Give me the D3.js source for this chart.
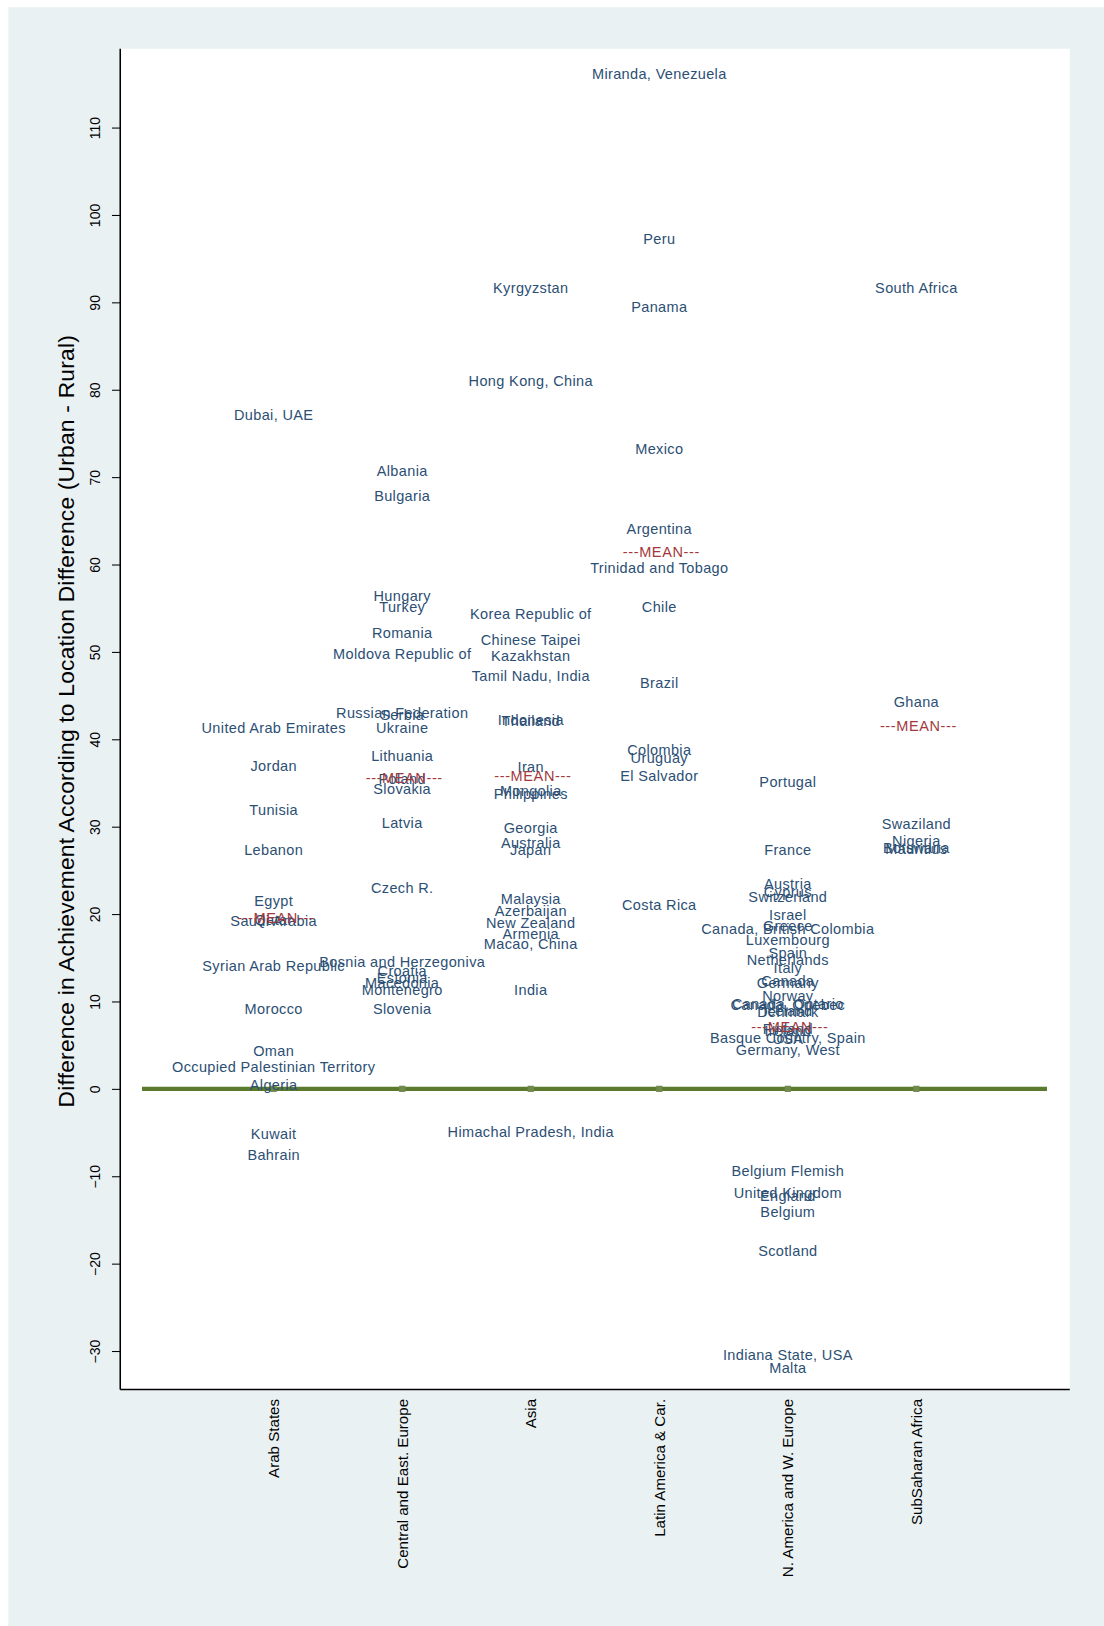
<!DOCTYPE html>
<html>
<head>
<meta charset="utf-8">
<script src="https://cdn.jsdelivr.net/npm/d3@7"></script>
<style>
    body { margin: 0; background: #fff; }
    svg { display: block; }
    text { font-family: "Liberation Sans", Arial, sans-serif; }
</style>
</head>
<body>
<svg width="1104" height="1626" viewBox="0 0 1065 1568" preserveAspectRatio="none"></svg>
<script>
(function() {
    // categories (x positions 1..6)
    var regions = ['Arab States', 'Central and East. Europe', 'Asia',
                   'Latin America & Car.', 'N. America and W. Europe', 'SubSaharan Africa'];

    var arabNames = ['Dubai, UAE', 'United Arab Emirates', 'Jordan', 'Tunisia', 'Lebanon', 'Egypt',
                     'Saudi Arabia', 'Qatar', 'Syrian Arab Republic', 'Morocco', 'Oman',
                     'Occupied Palestinian Territory', 'Algeria', 'Kuwait', 'Bahrain'];
    var arabValues = [77.1, 41.3, 37.0, 31.9, 27.3, 21.5, 19.2, 19.3, 14.1, 9.1, 4.3, 2.5, 0.5, -5.2, -7.6];

    var ceeNames = ['Albania', 'Bulgaria', 'Hungary', 'Turkey', 'Romania', 'Moldova Republic of',
                    'Russian Federation', 'Serbia', 'Ukraine', 'Lithuania', 'Poland', 'Slovakia',
                    'Latvia', 'Czech R.', 'Bosnia and Herzegoniva', 'Croatia', 'Estonia',
                    'Macedonia', 'Montenegro', 'Slovenia'];
    var ceeValues = [70.7, 67.8, 56.4, 55.2, 52.2, 49.8, 43.0, 42.8, 41.3, 38.1, 35.5, 34.3,
                     30.4, 23.0, 14.5, 13.5, 12.7, 12.1, 11.3, 9.1];

    var asiaNames = ['Kyrgyzstan', 'Hong Kong, China', 'Korea Republic of', 'Chinese Taipei',
                     'Kazakhstan', 'Tamil Nadu, India', 'Indonesia', 'Thailand', 'Iran', 'Mongolia',
                     'Philippines', 'Georgia', 'Australia', 'Japan', 'Malaysia', 'Azerbaijan',
                     'New Zealand', 'Armenia', 'Macao, China', 'India', 'Himachal Pradesh, India'];
    var asiaValues = [91.7, 81.0, 54.3, 51.4, 49.5, 47.2, 42.2, 42.1, 36.8, 34.1, 33.8, 29.8,
                      28.1, 27.3, 21.7, 20.4, 19.0, 17.7, 16.6, 11.3, -4.9];

    var latNames = ['Miranda, Venezuela', 'Peru', 'Panama', 'Mexico', 'Argentina',
                    'Trinidad and Tobago', 'Chile', 'Brazil', 'Colombia', 'Uruguay',
                    'El Salvador', 'Costa Rica'];
    var latValues = [116.1, 97.2, 89.5, 73.2, 64.1, 59.6, 55.2, 46.5, 38.8, 37.9, 35.8, 21.0];

    var westNames = ['Portugal', 'France', 'Austria', 'Cyprus', 'Switzerland', 'Israel',
                     'Canada, British Colombia', 'Greece', 'Luxembourg', 'Spain', 'Netherlands',
                     'Italy', 'Canada', 'Germany', 'Norway', 'Canada, Ontario', 'Canada, Quebec',
                     'Iceland', 'Denmark', 'Finland', 'Ireland', 'Basque Country, Spain', 'USA',
                     'Germany, West', 'Belgium Flemish', 'United Kingdom', 'England', 'Belgium',
                     'Scotland', 'Indiana State, USA', 'Malta'];
    var westValues = [35.1, 27.3, 23.4, 22.5, 22.0, 19.9, 18.3, 18.6, 17.0, 15.5, 14.7, 13.8,
                      12.3, 12.1, 10.6, 9.7, 9.6, 8.9, 8.8, 6.9, 6.6, 5.8, 5.7, 4.5,
                      -9.4, -11.9, -12.2, -14.1, -18.5, -30.4, -31.9];

    var ssaNames = ['South Africa', 'Ghana', 'Swaziland', 'Nigeria', 'Botswana', 'Mauritius'];
    var ssaValues = [91.6, 44.3, 30.3, 28.4, 27.6, 27.5];

    var regionMeans = [19.6, 35.6, 35.8, 61.4, 7.1, 41.5];

    var yTicks = [-30, -20, -10, 0, 10, 20, 30, 40, 50, 60, 70, 80, 90, 100, 110];

    var groups = [
        [arabNames, arabValues], [ceeNames, ceeValues], [asiaNames, asiaValues],
        [latNames, latValues], [westNames, westValues], [ssaNames, ssaValues]
    ];

    var points = [];
    groups.forEach(function(g, i) {
        g[0].forEach(function(name, j) {
            points.push({ cat: i + 1, name: name, value: g[1][j] });
        });
    });

    var svg = d3.select('svg');
    var plot = { left: 116, right: 1032, top: 47, bottom: 1340 };

    // figure background
    svg.append('rect')
        .attr('x', 8).attr('y', 7)
        .attr('width', 1057).attr('height', 1561)
        .attr('fill', '#eaf1f3');

    svg.append('rect')
        .attr('x', plot.left).attr('y', plot.top)
        .attr('width', plot.right - plot.left).attr('height', plot.bottom - plot.top)
        .attr('fill', '#fff');

    var x = d3.scaleLinear().domain([1, 6]).range([264, 884]);
    var y = d3.scaleLinear().domain([0, 110]).range([1050, 123]);

    // y axis
    var yAxis = svg.append('g')
        .attr('transform', 'translate(' + plot.left + ',0)')
        .call(d3.axisLeft(y).tickValues(yTicks).tickSize(8).tickSizeOuter(0));
    yAxis.select('.domain').remove();
    yAxis.selectAll('line').attr('stroke', '#000');
    yAxis.selectAll('text')
        .attr('fill', '#000')
        .style('font-size', '13.5px')
        .attr('text-anchor', 'middle')
        .attr('x', null).attr('dy', null)
        .attr('transform', 'translate(-24,0) rotate(-90)')
        .attr('dy', '0.35em');

    svg.append('line')
        .attr('x1', plot.left).attr('x2', plot.left)
        .attr('y1', plot.top).attr('y2', plot.bottom)
        .attr('stroke', '#000').attr('stroke-width', 1.5);
    svg.append('line')
        .attr('x1', plot.left).attr('x2', plot.right)
        .attr('y1', plot.bottom).attr('y2', plot.bottom)
        .attr('stroke', '#000').attr('stroke-width', 1.5);

    // x category labels
    svg.selectAll('text.cat')
        .data(regions)
        .enter()
        .append('text')
        .attr('class', 'cat')
        .attr('text-anchor', 'end')
        .attr('dy', '0.35em')
        .attr('transform', function(d, i) {
            return 'translate(' + x(i + 1) + ',1349) rotate(-90)';
        })
        .style('font-size', '14.6px')
        .attr('fill', '#000')
        .text(function(d) { return d; });

    // y title
    svg.append('text')
        .attr('transform', 'translate(64,' + ((plot.top + plot.bottom) / 2 + 2) + ') rotate(-90)')
        .attr('text-anchor', 'middle')
        .attr('dy', '0.35em')
        .style('font-size', '22px')
        .style('letter-spacing', '0.2px')
        .attr('fill', '#000')
        .text('Difference in Achievement According to Location Difference (Urban - Rural)');

    // zero line
    svg.append('line')
        .attr('x1', x(0) - 3).attr('x2', x(7) + 2)
        .attr('y1', y(0)).attr('y2', y(0))
        .attr('stroke', '#5b7a2e').attr('stroke-width', 4);

    svg.selectAll('rect.zero')
        .data(regions)
        .enter()
        .append('rect')
        .attr('class', 'zero')
        .attr('x', function(d, i) { return x(i + 1) - 3; })
        .attr('y', y(0) - 3)
        .attr('width', 6).attr('height', 6)
        .attr('fill', '#6f8a4a');

    // country labels
    svg.selectAll('text.country')
        .data(points)
        .enter()
        .append('text')
        .attr('class', 'country')
        .attr('x', function(d) { return x(d.cat); })
        .attr('y', function(d) { return y(d.value); })
        .attr('dy', '0.35em')
        .attr('text-anchor', 'middle')
        .style('font-size', '14px')
        .style('letter-spacing', '0.35px')
        .attr('fill', '#2c4f74')
        .text(function(d) { return d.name; });

    // region means
    svg.selectAll('text.mean')
        .data(regionMeans)
        .enter()
        .append('text')
        .attr('class', 'mean')
        .attr('x', function(d, i) { return x(i + 1) + 2; })
        .attr('y', function(d) { return y(d); })
        .attr('dy', '0.35em')
        .attr('text-anchor', 'middle')
        .style('font-size', '14px')
        .style('letter-spacing', '0.6px')
        .attr('fill', '#a3393b')
        .text('---MEAN---');
})();
</script>
</body>
</html>
